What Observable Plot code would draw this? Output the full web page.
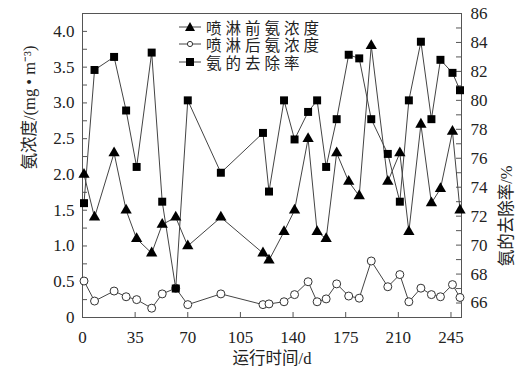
<!DOCTYPE html>
<html><head><meta charset="utf-8">
<script src="https://cdn.jsdelivr.net/npm/d3@7"></script>
<script src="https://cdn.jsdelivr.net/npm/@observablehq/plot@0.6"></script>
<style>
body{margin:0;background:#fff;}
#wrap{position:relative;width:531px;height:371px;}
.lg{position:absolute;left:178px;height:18px;display:flex;align-items:center;font-family:"Liberation Serif","Noto Sans CJK SC";font-size:15.5px;letter-spacing:4px;color:#222;white-space:nowrap;}
.lg svg{margin-right:4px;}
</style></head><body><div id="wrap"></div>
<script>
// Data
const days = [1, 8, 21, 29, 36, 46, 53, 62, 70, 92, 120, 124, 134, 141, 150, 156, 162, 169, 177, 184, 192, 203, 211, 217, 225, 232, 238, 246, 251];
const before = [2.0, 1.4, 2.3, 1.5, 1.1, 0.9, 1.3, 1.4, 1.0, 1.4, 0.9, 0.8, 1.2, 1.5, 2.5, 1.2, 1.1, 2.3, 1.9, 1.7, 3.8, 1.9, 2.3, 1.2, 2.7, 1.6, 1.8, 2.6, 1.5];
const after = [0.51, 0.23, 0.37, 0.29, 0.25, 0.13, 0.33, 0.41, 0.18, 0.33, 0.18, 0.19, 0.22, 0.32, 0.50, 0.22, 0.26, 0.47, 0.30, 0.27, 0.79, 0.43, 0.60, 0.22, 0.41, 0.32, 0.29, 0.46, 0.28];
const removal = [72.9, 82.1, 83.0, 79.3, 75.4, 83.3, 73.0, 67.0, 80.0, 75.0, 77.75, 73.7, 80.0, 77.3, 79.2, 80.0, 75.4, 78.7, 83.15, 82.9, 78.7, 76.3, 73.0, 80.0, 84.05, 78.7, 82.8, 81.9, 80.7];
const xTicks = [0, 35, 70, 105, 140, 175, 210, 245];
const leftTicks = [0, 0.5, 1.0, 1.5, 2.0, 2.5, 3.0, 3.5, 4.0];
const rightTicks = [66, 68, 70, 72, 74, 76, 78, 80, 82, 84, 86];
const seriesNames = ["喷淋前氨浓度", "喷淋后氨浓度", "氨的去除率"];
const xLabel = "运行时间/d";
const leftLabel = "氨浓度/(mg • m⁻³)";
const rightLabel = "氨的去除率/%";

const W = 531, H = 371, mL = 82, mR = 70, mT = 13, mB = 54;
const plotW = W - mL - mR, plotH = H - mT - mB;
const LTOP = 4.25, RMIN = 65, RMAX = 86;
const toL = r => (r - RMIN) / (RMAX - RMIN) * LTOP;
const fromL = v => v / LTOP * (RMAX - RMIN) + RMIN;

const rows = days.map((d, i) => ({day: d, before: before[i], after: after[i], removal: toL(removal[i])}));
const leftMinor = d3.range(0, 4.01, 0.25);
const rightMinor = d3.range(65, 86.01, 1).map(toL);

const ink = "#444";
const chart = Plot.plot({
  width: W, height: H,
  marginLeft: mL, marginRight: mR, marginTop: mT, marginBottom: mB,
  style: {fontFamily: "Liberation Serif", fontSize: "17px", color: "#222", background: "#fff"},
  x: {domain: [0, 252]},
  y: {domain: [0, LTOP]},
  marks: [
    Plot.frame({stroke: "#555"}),
    Plot.tickY(leftMinor, {y: d => d, insetRight: plotW - 5, stroke: "#555"}),
    Plot.tickY(rightMinor, {y: d => d, insetLeft: plotW - 5, stroke: "#555"}),
    Plot.tickX(xTicks, {x: d => d, insetTop: plotH - 5, stroke: "#555"}),
    Plot.axisX({ticks: xTicks, tickSize: 0, tickPadding: 13, label: null, tickFormat: d => String(d)}),
    Plot.axisY({ticks: leftTicks, tickSize: 0, tickPadding: 8, label: null, tickFormat: d => d === 0 ? "0" : d.toFixed(1)}),
    Plot.axisY({anchor: "right", ticks: rightTicks.map(toL), tickSize: 0, tickPadding: 9, label: null, tickFormat: d => String(Math.round(fromL(d)))}),
    Plot.text([xLabel], {frameAnchor: "bottom", dy: 46, text: d => d, fontFamily: "Liberation Serif, Noto Sans CJK SC", fontSize: 16.5, letterSpacing: 3, fill: "#222"}),
    Plot.text([leftLabel], {frameAnchor: "left", dx: -53, dy: 4, rotate: -90, text: d => d, fontFamily: "Liberation Serif, Noto Sans CJK SC", fontSize: 16.5, letterSpacing: 2, fill: "#222"}),
    Plot.text([rightLabel], {frameAnchor: "right", dx: 45, dy: 0, rotate: -90, text: d => d, fontFamily: "Liberation Serif, Noto Sans CJK SC", fontSize: 16.5, letterSpacing: 3, fill: "#222"}),
    Plot.line(rows, {x: "day", y: "before", stroke: ink, strokeWidth: 1}),
    Plot.line(rows, {x: "day", y: "after", stroke: ink, strokeWidth: 1}),
    Plot.line(rows, {x: "day", y: "removal", stroke: ink, strokeWidth: 1}),
    Plot.dot(rows, {x: "day", y: "before", symbol: "triangle", r: 4.2, fill: "#000", stroke: "none"}),
    Plot.dot(rows, {x: "day", y: "after", symbol: "circle", r: 4, fill: "#fff", stroke: "#333", strokeWidth: 1}),
    Plot.dot(rows, {x: "day", y: "removal", symbol: "square", r: 4.5, fill: "#000", stroke: "none"})
  ]
});
const wrap = document.getElementById("wrap");
wrap.appendChild(chart);

// Legend overlay
const symbols = [
  '<path d="M6,-5 L11,4 L1,4 Z" fill="#000"/>',
  '<circle cx="6" cy="0" r="2.6" fill="#fff" stroke="#333"/>',
  '<rect x="2" y="-4" width="8" height="8" fill="#000"/>'
];
const tops = [18, 35, 53];
seriesNames.forEach((name, i) => {
  const div = document.createElement("div");
  div.className = "lg";
  div.style.top = tops[i] + "px";
  div.innerHTML = `<svg width="24" height="12" viewBox="-6 -6 24 12"><line x1="-5" x2="17" y1="0" y2="0" stroke="${ink}"/>${symbols[i]}</svg><span>${name}</span>`;
  wrap.appendChild(div);
});
</script></body></html>
